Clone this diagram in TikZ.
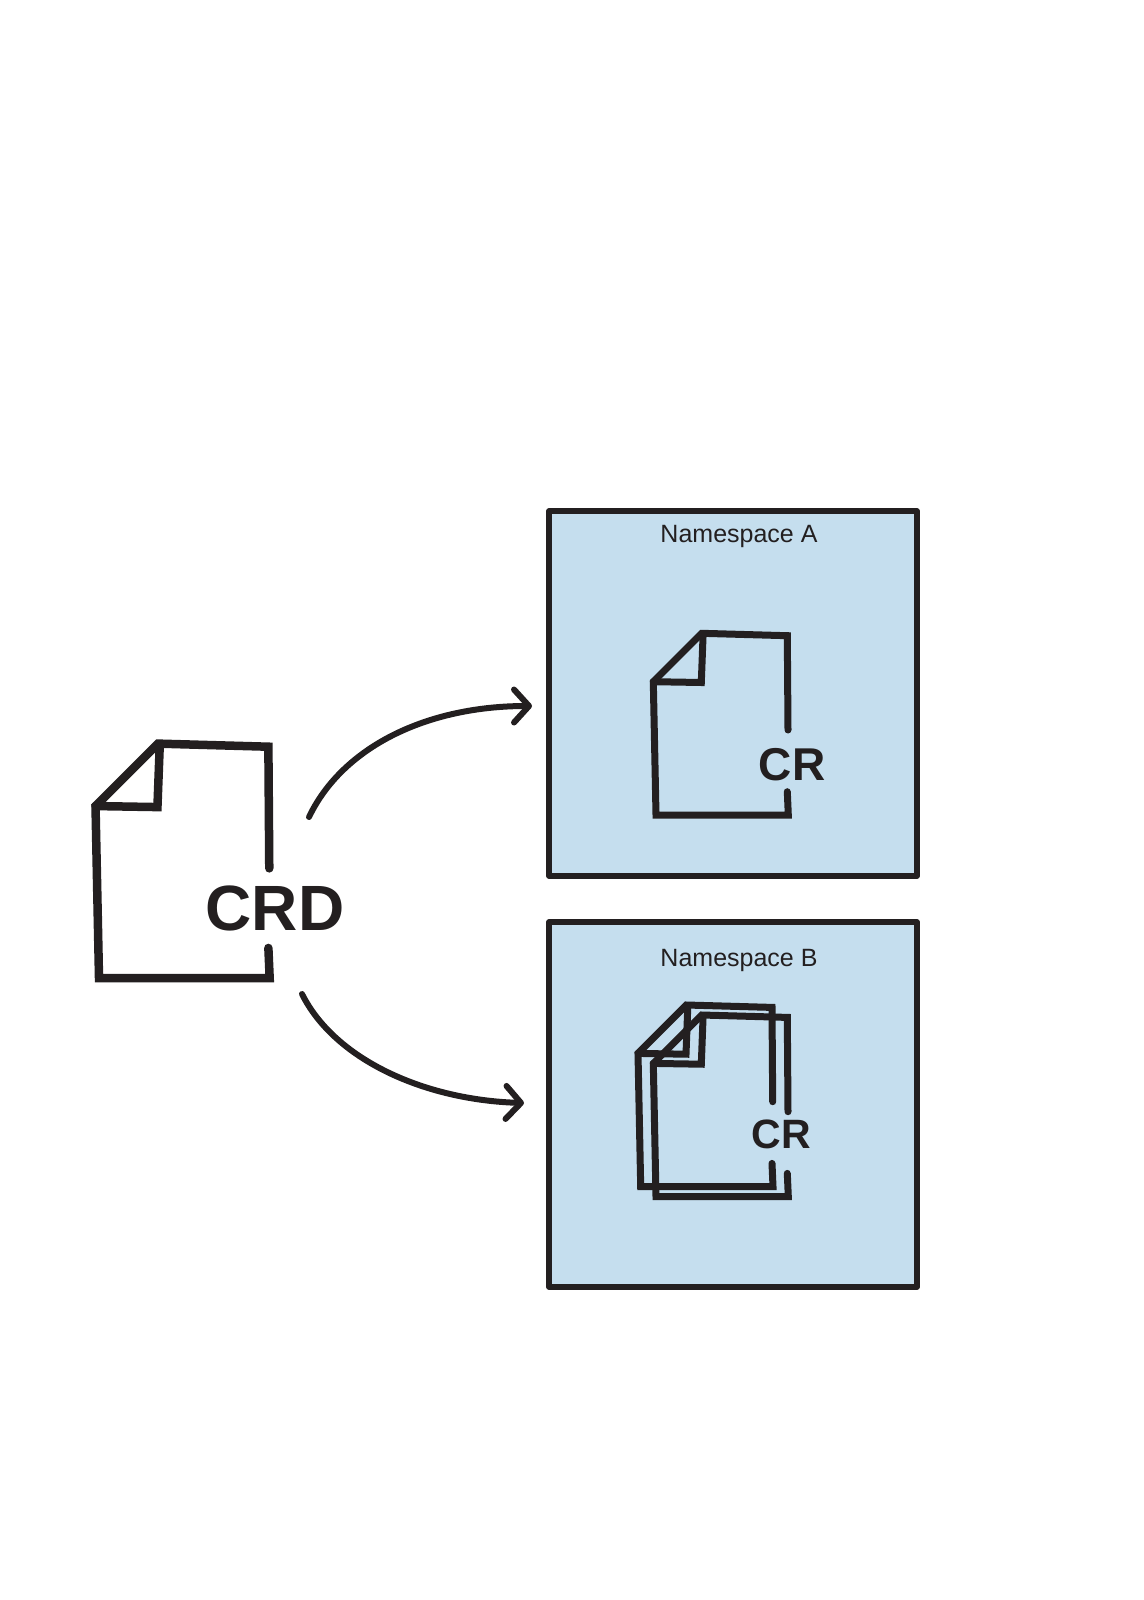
\documentclass[tikz,border=0pt]{standalone}
\usepackage{fontspec}
\setmainfont{Liberation Sans}
\usetikzlibrary{arrows.meta}
\definecolor{Ink}{HTML}{231F20}
\definecolor{Sky}{HTML}{C5DEEE}
\tikzset{
  nsbox/.style={draw=Ink,fill=Sky,line width=5.5pt,line join=round,minimum width=368pt,minimum height=365pt,inner sep=0pt},
  nslabel/.style={font=\fontsize{25pt}{30pt}\selectfont,text=Ink,inner sep=0pt},
  biglabel/.style={font=\fontsize{64pt}{70pt}\selectfont\bfseries,text=Ink,inner sep=0pt},
  crlabel/.style={font=\fontsize{46pt}{50pt}\selectfont\bfseries,text=Ink,inner sep=0pt},
  smalllabel/.style={font=\fontsize{41pt}{44pt}\selectfont\bfseries,text=Ink,inner sep=0pt},
  sheet/.style={draw=Ink,line cap=round,line join=miter},
  line/.style={-{Straight Barb[length=15pt,width=33pt,round]},draw=Ink,line width=6pt,line cap=round},
  pics/docsheet/.style={code={
    \draw[sheet] (132,-85) -- (131.3,-179.3) -- (45.7,-181.7) -- (-2.7,-133.3) -- (0,0) -- (132.3,0) -- (131.3,-23.3);
    \draw[sheet] (-2.7,-133.3) -- (45.3,-132.5) -- (47,-178);
  }}
}
\begin{document}
\begin{tikzpicture}[x=1pt,y=-1pt]
  \useasboundingbox (0,0) rectangle (1143,1600);
  \node[nsbox] (nsA) at (733,693.5) {};
  \node[nsbox] (nsB) at (733,1104.5) {};
  \node[nslabel] (nameA) at (739,536.5) {Namespace A};
  \node[nslabel] (nameB) at (739,960.5) {Namespace B};
  \pic[line width=8.5pt,scale=1.29] at (99,978) {docsheet};
  \pic[line width=7pt] at (656,815) {docsheet};
  \pic[line width=7pt] at (640.7,1186.7) {docsheet};
  \pic[line width=7pt] at (656,1196.7) {docsheet};
  \node[biglabel] (crd) at (275,908) {CRD};
  \node[crlabel] (crA) at (792,765) {CR};
  \node[smalllabel] (crB) at (781,1134) {CR};
  \coordinate (fromtop) at (309,817);
  \coordinate (frombottom) at (302,994);
  \coordinate (toA) at (532,706);
  \coordinate (toB) at (524,1103);
  \draw[line] (fromtop) .. controls (342,748) and (425,706) .. (toA);
  \draw[line] (frombottom) .. controls (335,1060) and (425,1100) .. (toB);
\end{tikzpicture}
\end{document}
